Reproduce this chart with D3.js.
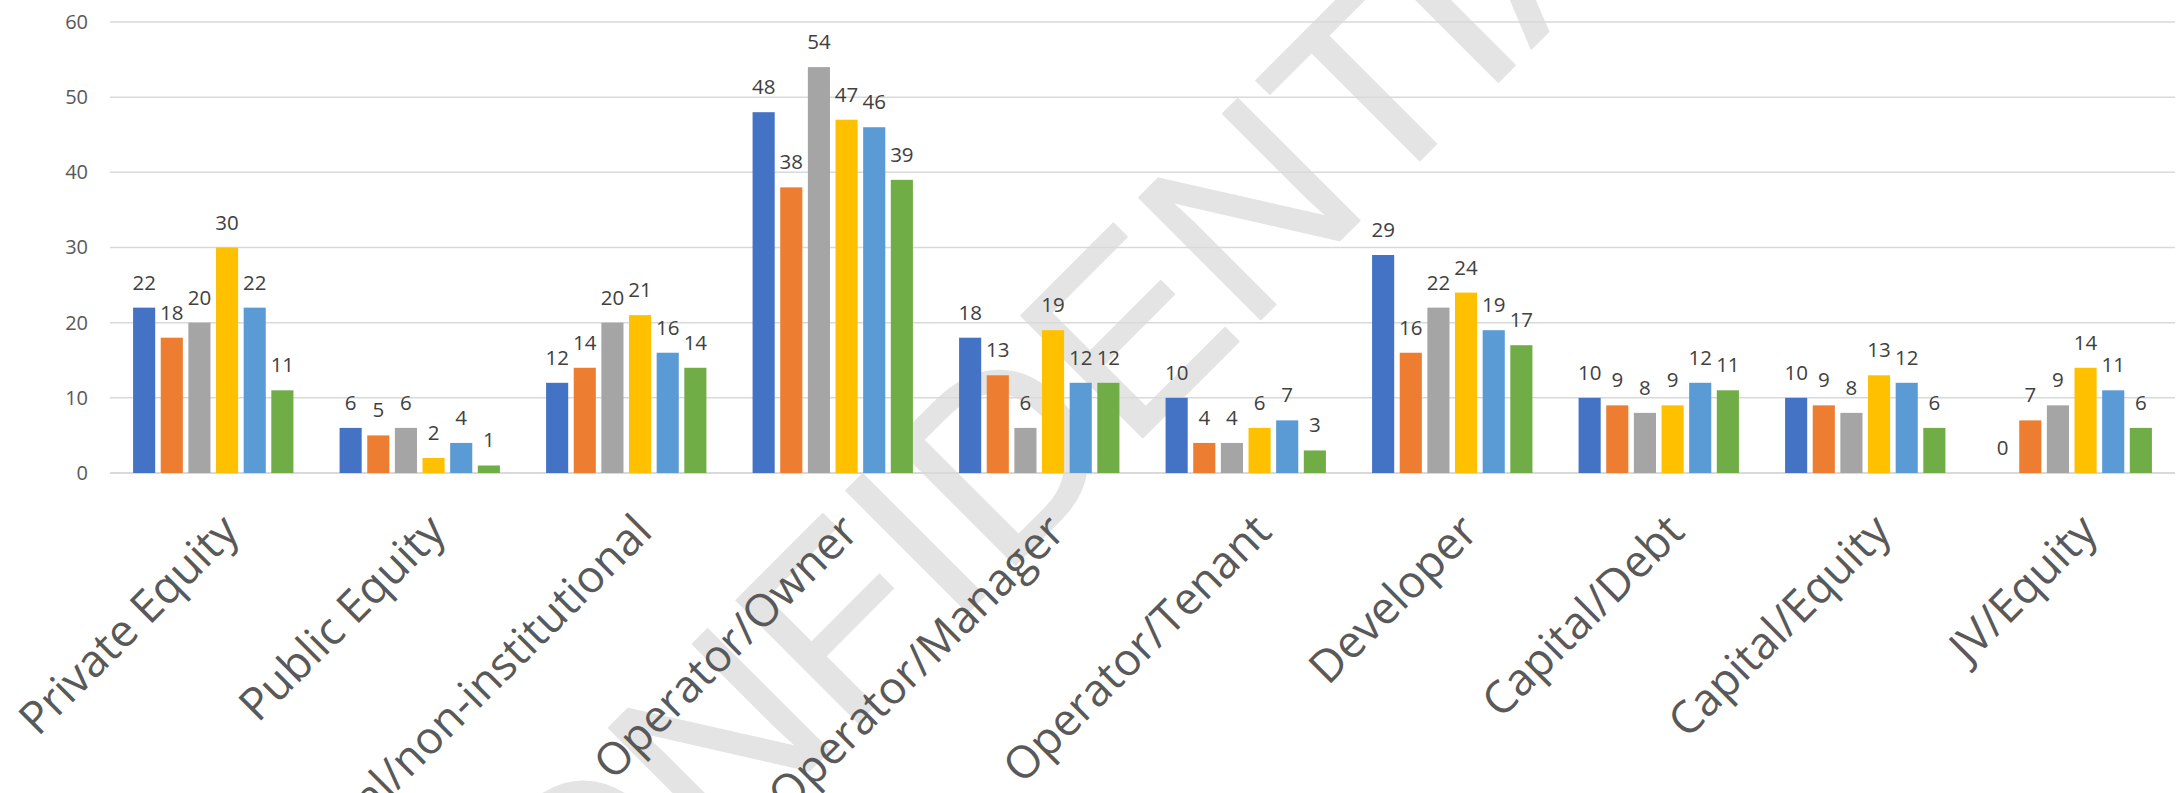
<!DOCTYPE html>
<html>
<head>
<meta charset="utf-8">
<script src="https://cdn.jsdelivr.net/npm/d3@7"></script>
<style>
  html, body { margin: 0; padding: 0; background: #ffffff; }
  svg { display: block; }
</style>
</head>
<body>
<svg id="chart" width="2178" height="793"></svg>
<script>
// ---- data ----
const categories = ["Private Equity", "Public Equity", "Individual/non-institutional", "Operator/Owner",
  "Operator/Manager", "Operator/Tenant", "Developer", "Capital/Debt", "Capital/Equity", "JV/Equity"];
const seriesNames = ["S1", "S2", "S3", "S4", "S5", "S6"];
const s1 = [22, 6, 12, 48, 18, 10, 29, 10, 10, 0];
const s2 = [18, 5, 14, 38, 13, 4, 16, 9, 9, 7];
const s3 = [20, 6, 20, 54, 6, 4, 22, 8, 8, 9];
const s4 = [30, 2, 21, 47, 19, 6, 24, 9, 13, 14];
const s5 = [22, 4, 16, 46, 12, 7, 19, 12, 12, 11];
const s6 = [11, 1, 14, 39, 12, 3, 17, 11, 6, 6];
const seriesValues = [s1, s2, s3, s4, s5, s6];
const seriesColors = ["#4472C4", "#ED7D31", "#A5A5A5", "#FFC000", "#5B9BD5", "#70AD47"];
const yTicks = [0, 10, 20, 30, 40, 50, 60];
const watermarkText = "CONFIDENTIAL";

// ---- layout ----
const plot = { left: 110, right: 2175, top: 22, bottom: 473 };
const svg = d3.select("#chart");

const x0 = d3.scaleBand().domain(categories).range([plot.left, plot.right])
  .paddingInner(0.17).paddingOuter(0.085);
const x1 = d3.scaleBand().domain(seriesNames).range([0, x0.bandwidth()]).padding(0.2);
const y = d3.scaleLinear().domain([0, 60]).range([plot.bottom, plot.top]);

// watermark (behind everything)
svg.append("text")
  .attr("transform", "translate(1099,481) rotate(-45)")
  .attr("text-anchor", "middle")
  .attr("font-family", "Liberation Sans, Arial, sans-serif")
  .attr("font-size", 250)
  .attr("fill", "#e4e4e4")
  .attr("stroke", "#e4e4e4")
  .attr("stroke-width", 2)
  .attr("stroke-linejoin", "round")
  .text(watermarkText);

// gridlines
svg.append("g").selectAll("line").data(yTicks).join("line")
  .attr("x1", plot.left).attr("x2", plot.right)
  .attr("y1", d => y(d)).attr("y2", d => y(d))
  .attr("stroke", "#d9d9d9")
  .attr("stroke-width", d => d === 0 ? 2 : 1.5);

// y axis labels
const yAxis = d3.axisLeft(y).tickValues(yTicks).tickSize(0).tickPadding(0);
const ya = svg.append("g").attr("transform", `translate(${plot.left - 22},0)`).call(yAxis);
ya.select(".domain").remove();
ya.selectAll("text")
  .attr("font-family", "Open Sans, sans-serif")
  .attr("font-size", 20)
  .attr("fill", "#595959");

// bars
const rows = categories.map((c, i) => ({ cat: c, vals: seriesNames.map((s, j) => ({ s, j, v: seriesValues[j][i] })) }));
const groups = svg.append("g").selectAll("g").data(rows).join("g")
  .attr("transform", d => `translate(${x0(d.cat)},0)`);
groups.selectAll("rect").data(d => d.vals).join("rect")
  .attr("x", d => x1(d.s))
  .attr("width", x1.bandwidth())
  .attr("y", d => y(d.v))
  .attr("height", d => y(0) - y(d.v))
  .attr("fill", d => seriesColors[d.j]);
groups.selectAll("text").data(d => d.vals).join("text")
  .attr("x", d => x1(d.s) + x1.bandwidth() / 2)
  .attr("y", d => y(d.v) - 18)
  .attr("text-anchor", "middle")
  .attr("font-family", "Open Sans, sans-serif")
  .attr("font-size", 20.5)
  .attr("fill", "#404040")
  .text(d => d.v);

// x axis labels
const xAxis = d3.axisBottom(x0).tickSize(0).tickPadding(0);
const xa = svg.append("g").attr("transform", `translate(0,${plot.bottom})`).call(xAxis);
xa.select(".domain").remove();
xa.selectAll(".tick text")
  .attr("font-family", "Open Sans, sans-serif")
  .attr("font-size", 45)
  .attr("fill", "#595959")
  .attr("text-anchor", "end")
  .attr("y", 0).attr("dy", "0.72em")
  .attr("transform", "translate(5,38) rotate(-45)");
</script>
</body>
</html>
